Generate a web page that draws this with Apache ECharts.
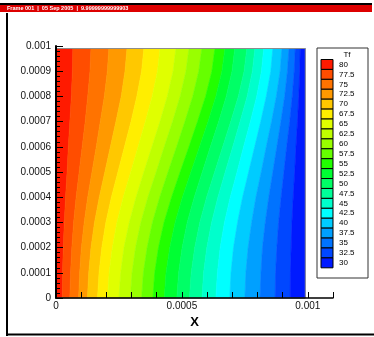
<!DOCTYPE html>
<html>
<head>
<meta charset="utf-8">
<script src="https://cdn.jsdelivr.net/npm/echarts@6/dist/echarts.min.js"></script>
<style>
html, body { margin: 0; padding: 0; background: #fff; }
#chart { width: 374px; height: 337px; }
</style>
</head>
<body>
<div id="chart"></div>
<script>
// contour levels of Tf, hottest first (legend order)
var levels = [80, 77.5, 75, 72.5, 70, 67.5, 65, 62.5, 60, 57.5, 55, 52.5, 50, 47.5, 45, 42.5, 40, 37.5, 35, 32.5, 30];
var bandColors = ['#ff1a00', '#ff4d00', '#ff7300', '#ff9900', '#ffc800', '#ffee00', '#e0ff00', '#bfff00', '#99ff00', '#66ff00',
  '#22ff00', '#00ff33', '#00ff66', '#00ff99', '#00ffcc', '#00ffff', '#00ccff', '#00a0ff', '#0073ff', '#0047ff', '#001aff'];

var xTickLabels = { 0: '0', 500: '0.0005', 1000: '0.001' };
var yTickLabels = ['0', '0.0001', '0.0002', '0.0003', '0.0004', '0.0005', '0.0006', '0.0007', '0.0008', '0.0009', '0.001'];

// coordinates in micrometres; the solution domain
var domainX = 990;
var domainY = 990;
var rowY = [0, 100, 200, 300, 400, 500, 600, 700, 800, 900, 990];
// x of the 20 band boundaries (hot -> cold) on each row
var isoX = [
  [25, 55, 90, 125, 165, 205, 250, 295, 340, 385, 430, 480, 530, 580, 635, 690, 750, 810, 870, 930],
  [26, 58, 94, 130, 171, 211, 257, 302, 347, 392, 437, 487, 537, 586, 641, 695, 754, 814, 872, 931],
  [29, 63, 101, 139, 182, 224, 270, 316, 362, 407, 452, 501, 551, 599, 652, 705, 763, 820, 877, 934],
  [33, 70, 112, 153, 198, 242, 291, 337, 383, 429, 473, 521, 571, 618, 669, 721, 777, 831, 884, 937],
  [38, 80, 126, 172, 220, 267, 318, 365, 412, 459, 502, 549, 598, 643, 692, 741, 794, 845, 894, 942],
  [44, 92, 143, 194, 246, 297, 349, 398, 445, 493, 536, 581, 630, 672, 719, 765, 815, 861, 905, 948],
  [49, 104, 160, 216, 272, 326, 381, 430, 479, 528, 570, 613, 662, 702, 745, 789, 835, 877, 916, 953],
  [55, 116, 176, 238, 298, 355, 413, 463, 512, 562, 604, 646, 694, 731, 772, 813, 856, 893, 928, 959],
  [61, 126, 192, 259, 321, 382, 442, 493, 543, 594, 635, 676, 724, 759, 797, 835, 875, 908, 938, 964],
  [65, 135, 204, 274, 340, 403, 465, 516, 567, 619, 659, 699, 747, 780, 816, 853, 890, 919, 946, 968],
  [67, 139, 210, 282, 349, 413, 476, 528, 579, 631, 671, 710, 758, 790, 825, 861, 897, 925, 950, 970]
];

var chart = echarts.init(document.getElementById('chart'));

function renderBand(params, api) {
  var k = api.value(0);
  var last = levels.length - 1;
  var pts = [];
  var r;
  for (r = 0; r < rowY.length; r++) {
    pts.push(api.coord([k === 0 ? 0 : isoX[r][k - 1], rowY[r]]));
  }
  for (r = rowY.length - 1; r >= 0; r--) {
    pts.push(api.coord([k === last ? domainX : isoX[r][k], rowY[r]]));
  }
  return {
    type: 'polygon',
    shape: { points: pts },
    style: { fill: bandColors[k], stroke: bandColors[k], lineWidth: 0.6 }
  };
}

function renderOutline(params, api) {
  var p0 = api.coord([0, domainY]);
  var p1 = api.coord([domainX, 0]);
  return {
    type: 'rect',
    shape: { x: p0[0], y: p0[1], width: p1[0] - p0[0], height: p1[1] - p0[1] },
    style: { fill: null, stroke: '#8c8c8c', lineWidth: 1 }
  };
}

// legend box (Tecplot style)
var legend = [];
var lgX = 317, lgY = 48, swX = 321, swY = 59.5, swW = 12, swH = 9.92;
legend.push({ type: 'rect', shape: { x: lgX, y: lgY, width: 51, height: 230 },
  style: { fill: '#fff', stroke: '#333', lineWidth: 1 }, z: 5 });
legend.push({ type: 'text', x: 347, y: 55, z: 6,
  style: { text: 'Tf', font: '8px "Liberation Sans", Arial', fill: '#000', align: 'center', verticalAlign: 'middle' } });
levels.forEach(function (v, i) {
  legend.push({ type: 'rect', z: 6, shape: { x: swX, y: swY + i * swH, width: swW, height: swH },
    style: { fill: bandColors[i], stroke: '#000', lineWidth: 1 } });
  legend.push({ type: 'text', z: 6, x: 339, y: swY + (i + 0.5) * swH,
    style: { text: String(v), font: '8px "Liberation Sans", Arial', fill: '#000', align: 'left', verticalAlign: 'middle' } });
});

var frame = [
  { type: 'rect', shape: { x: 0, y: 3, width: 372, height: 2 }, style: { fill: '#000' } },
  { type: 'rect', shape: { x: 0, y: 5, width: 372, height: 7 }, style: { fill: '#dd0000' } },
  { type: 'text', x: 7, y: 8.5, style: { text: 'Frame 001  |  05 Sep 2005  |  9.99999999999903', font: 'bold 5.5px "Liberation Sans", Arial',
    fill: '#fff', verticalAlign: 'middle' } },
  { type: 'rect', shape: { x: 6, y: 13, width: 2, height: 323 }, style: { fill: '#000' } },
  { type: 'rect', shape: { x: 6, y: 333.5, width: 368, height: 2 }, style: { fill: '#000' } }
];

chart.setOption({
  animation: false,
  backgroundColor: '#fff',
  grid: { left: 56, top: 46, width: 277, height: 252, containLabel: false },
  xAxis: {
    type: 'value', min: 0, max: 1100, interval: 100, z: 5,
    name: 'X', nameLocation: 'middle', nameGap: 18,
    nameTextStyle: { fontFamily: '"Liberation Sans", Arial', fontWeight: 'bold', fontSize: 13, color: '#000' },
    axisLine: { show: true, lineStyle: { color: '#000', width: 1.5 } },
    axisTick: { show: true, inside: true, length: 6, lineStyle: { color: '#000', width: 1 } },
    axisLabel: {
      margin: 3, fontSize: 10, fontFamily: '"Liberation Sans", Arial', color: '#111',
      formatter: function (v) { return xTickLabels[v] !== undefined ? xTickLabels[v] : ''; }
    },
    splitLine: { show: false }
  },
  yAxis: {
    type: 'value', min: 0, max: 1000, interval: 100, z: 5,
    axisLine: { show: true, lineStyle: { color: '#000', width: 2 } },
    axisTick: { show: true, inside: true, length: 7, lineStyle: { color: '#000', width: 1 } },
    minorTick: { show: true, splitNumber: 5, length: 4, lineStyle: { color: '#000', width: 1 } },
    axisLabel: {
      margin: 5, fontSize: 10, fontFamily: '"Liberation Sans", Arial', color: '#111',
      formatter: function (v) { return yTickLabels[Math.round(v / 100)]; }
    },
    splitLine: { show: false }
  },
  graphic: frame.concat(legend),
  series: [
    {
      type: 'custom', renderItem: renderBand, silent: true, z: 1,
      data: levels.map(function (v, i) { return [i, v]; })
    },
    {
      type: 'custom', renderItem: renderOutline, silent: true, z: 2,
      data: [[0]]
    }
  ]
});
</script>
</body>
</html>
